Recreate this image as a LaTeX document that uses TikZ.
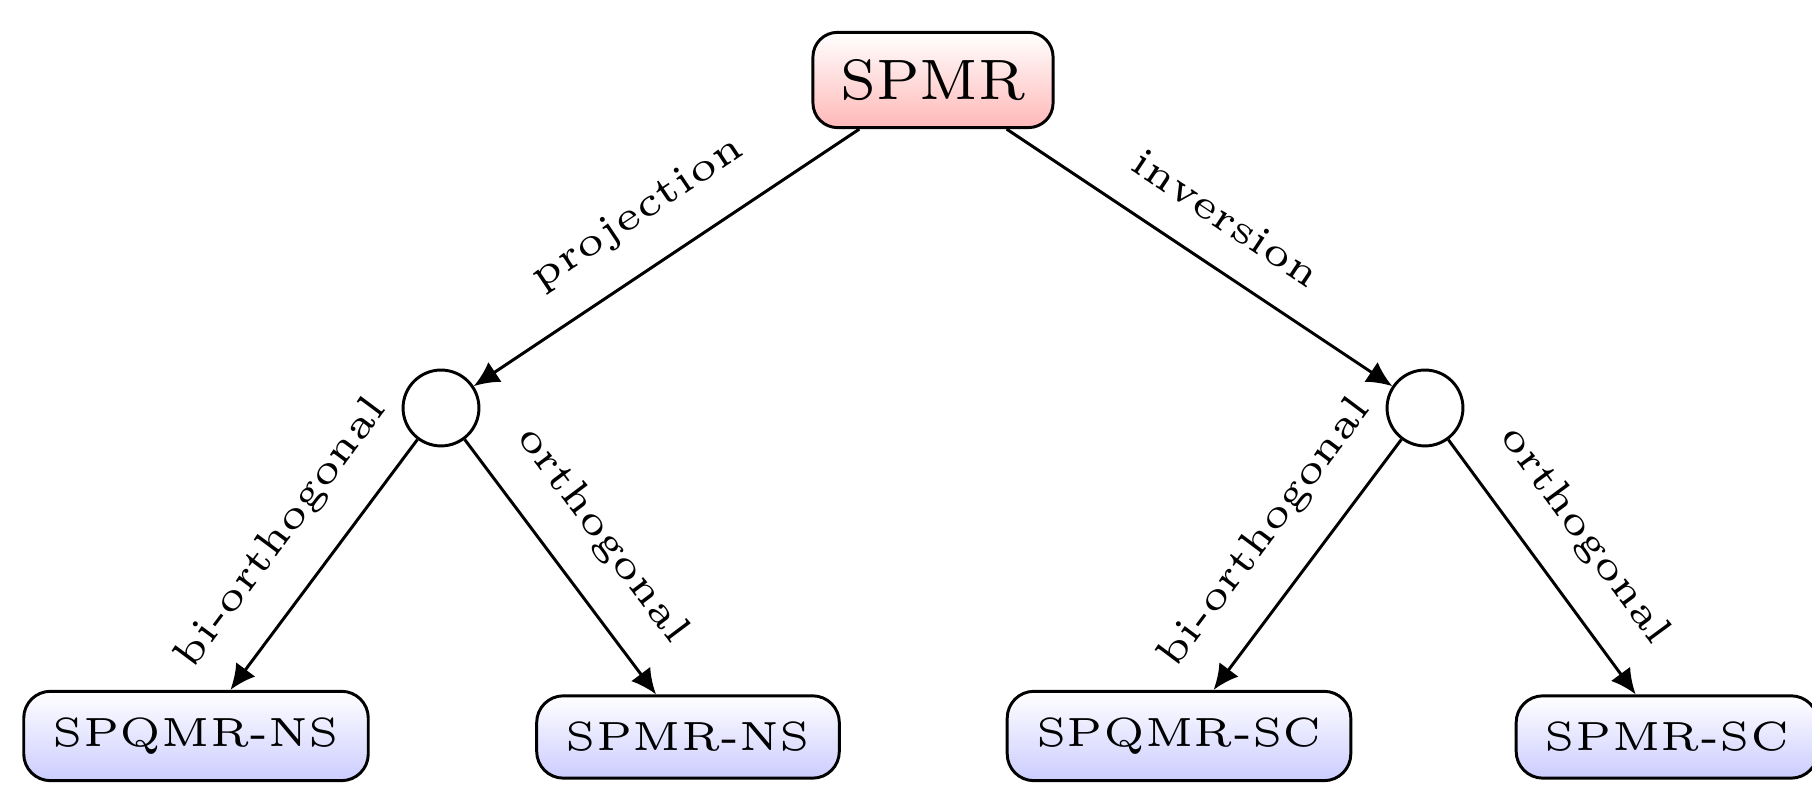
\documentclass[tikz,border=0pt]{standalone}
\usepackage{fontspec}
\usetikzlibrary{arrows.meta}
\newfontfamily\fivefnt{lmroman5-regular.otf}
\newfontfamily\sevenfnt{lmroman7-regular.otf}
\newcommand\labfont{\fontsize{5.8}{7}\fivefnt}
\newcommand\rootfont{\fontsize{8.1}{9.5}\sevenfnt}
\begin{document}
\begin{tikzpicture}[x=0.1423pt, y=-0.1423pt,
  rootbox/.style={draw, line width=0.42pt, rounded corners=3.5pt, top color=white, bottom color=red!28, font=\rootfont, inner xsep=3.9pt, inner ysep=3.85pt},
  leafbox/.style={draw, line width=0.42pt, rounded corners=3.8pt, top color=white, bottom color=blue!20, font=\labfont, inner xsep=4.1pt, inner ysep=3.75pt},
  branch/.style={draw, circle, line width=0.42pt, minimum size=10.8pt, inner sep=0pt},
  conn/.style={line width=0.42pt, -{Latex[length=3.6pt,width=3.4pt]}},
  lbl/.style={font=\labfont, sloped, above=1.3pt, midway}]
\useasboundingbox (0,0) rectangle (1812,786);
\node[rootbox] (root) at (933,80) {SPMR};
\node[branch] (L) at (441,408) {};
\node[branch] (R) at (1425,408) {};
\node[leafbox] (LL) at (196,736) {SPQMR-NS};
\node[leafbox] (LR) at (688,737) {SPMR-NS};
\node[leafbox] (RL) at (1179,736) {SPQMR-SC};
\node[leafbox] (RR) at (1667,737) {SPMR-SC};
\draw[conn] (root) -- node[lbl] {projection} (L);
\draw[conn] (root) -- node[lbl] {inversion} (R);
\draw[conn] (L) -- node[lbl] {bi-orthogonal} (LL);
\draw[conn] (L) -- node[lbl] {orthogonal} (LR);
\draw[conn] (R) -- node[lbl] {bi-orthogonal} (RL);
\draw[conn] (R) -- node[lbl] {orthogonal} (RR);
\end{tikzpicture}
\end{document}
